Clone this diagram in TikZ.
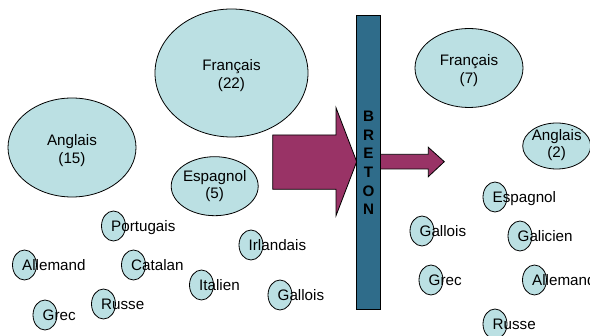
\documentclass[tikz,border=0pt]{standalone}
\usepackage{fontspec}
\setmainfont{Liberation Sans}
\usetikzlibrary{shapes.geometric}

\definecolor{langfill}{RGB}{187,224,227}
\definecolor{flowfill}{RGB}{153,51,102}
\definecolor{barfill}{RGB}{47,108,138}

\tikzset{
    every node/.style={font=\fontsize{15.2}{17.5}\selectfont},
    lang/.style={ellipse, draw, line width=0.8pt, fill=langfill, inner sep=0pt, minimum width=24, minimum height=30},
    langtxt/.style={anchor=base west, inner sep=0pt},
    big/.style={ellipse, draw, line width=0.8pt, fill=langfill, inner sep=0pt},
    bigtxt/.style={align=center, inner sep=0pt},
    flow/.style={draw, line width=0.8pt, fill=flowfill, line join=miter},
}

\begin{document}
\begin{tikzpicture}[x=1pt, y=-1pt]
        \useasboundingbox (0,0) rectangle (590,336);

        % avant
        \node[big, minimum width=153, minimum height=128] (fr22) at (231.5,73) {};
        \node[bigtxt] (fr22-txt) at ([yshift=-2.5pt]fr22.center) {Français\\(22)};

        \node[big, minimum width=128, minimum height=99] (en15) at (72,147.5) {};
        \node[bigtxt] (en15-txt) at ([yshift=-3pt]en15.center) {Anglais\\(15)};

        \node[big, minimum width=87, minimum height=59] (es5) at (214.7,186.2) {};
        \node[bigtxt] (es5-txt) at (es5.center) {Espagnol\\(5)};

        \node[lang] (pt) at (113.5,226) {};
        \node[langtxt] (pt-txt) at ([shift={(-2.5,5.7)}]pt.center) {Portugais};
        \node[lang] (de) at (24.5,265) {};
        \node[langtxt] (de-txt) at ([shift={(-2.5,5.7)}]de.center) {Allemand};
        \node[lang] (ca) at (133.5,265) {};
        \node[langtxt] (ca-txt) at ([shift={(-2.5,5.7)}]ca.center) {Catalan};
        \node[lang] (ga) at (251,245) {};
        \node[langtxt] (ga-txt) at ([shift={(-2.5,5.7)}]ga.center) {Irlandais};
        \node[lang] (it) at (201.5,285) {};
        \node[langtxt] (it-txt) at ([shift={(-2.5,5.7)}]it.center) {Italien};
        \node[lang] (cy) at (280,295) {};
        \node[langtxt] (cy-txt) at ([shift={(-2.5,5.7)}]cy.center) {Gallois};
        \node[lang] (ru) at (103.5,304) {};
        \node[langtxt] (ru-txt) at ([shift={(-2.5,5.7)}]ru.center) {Russe};
        \node[lang] (el) at (45,315) {};
        \node[langtxt] (el-txt) at ([shift={(-2.5,5.7)}]el.center) {Grec};

        % fleches et barre
        \draw[flow] (272.7,135) -- (336,135) -- (336,107.7) -- (356.7,161.7)
                -- (336,215.7) -- (336,189.3) -- (272.7,189.3) -- cycle;
        \draw[flow] (380,154.3) -- (428.3,154.3) -- (428.3,147.3) -- (444.3,161.7)
                -- (428.3,176.7) -- (428.3,169) -- (380,169) -- cycle;

        \node[draw, line width=0.8pt, fill=barfill, inner sep=0pt,
              minimum width=24.5, minimum height=294] (breton) at (368.5,162) {};
        \node[align=center, inner sep=0pt,
              font=\bfseries\fontsize{15.2}{18.6}\selectfont] (breton-txt)
              at (368.5,163) {B\\R\\E\\T\\O\\N};

        % apres
        \node[big, minimum width=108, minimum height=79] (fr7) at (469,68) {};
        \node[bigtxt] (fr7-txt) at ([yshift=-2.5pt]fr7.center) {Français\\(7)};

        \node[big, minimum width=68, minimum height=46] (en2) at (556.7,146) {};
        \node[bigtxt] (en2-txt) at ([yshift=1pt]en2.center) {Anglais\\(2)};

        \node[lang] (es) at (495,197) {};
        \node[langtxt] (es-txt) at ([shift={(-2.5,5.7)}]es.center) {Espagnol};
        \node[lang] (cy2) at (422,231) {};
        \node[langtxt] (cy2-txt) at ([shift={(-2.5,5.7)}]cy2.center) {Gallois};
        \node[lang] (gl) at (520,236) {};
        \node[langtxt] (gl-txt) at ([shift={(-2.5,5.7)}]gl.center) {Galicien};
        \node[lang] (el2) at (431,280) {};
        \node[langtxt] (el2-txt) at ([shift={(-2.5,5.7)}]el2.center) {Grec};
        \node[lang] (de2) at (534.5,280) {};
        \node[langtxt] (de2-txt) at ([shift={(-2.5,5.7)}]de2.center) {Allemand};
        \node[lang] (ru2) at (495,324) {};
        \node[langtxt] (ru2-txt) at ([shift={(-2.5,5.7)}]ru2.center) {Russe};
    \end{tikzpicture}
\end{document}
